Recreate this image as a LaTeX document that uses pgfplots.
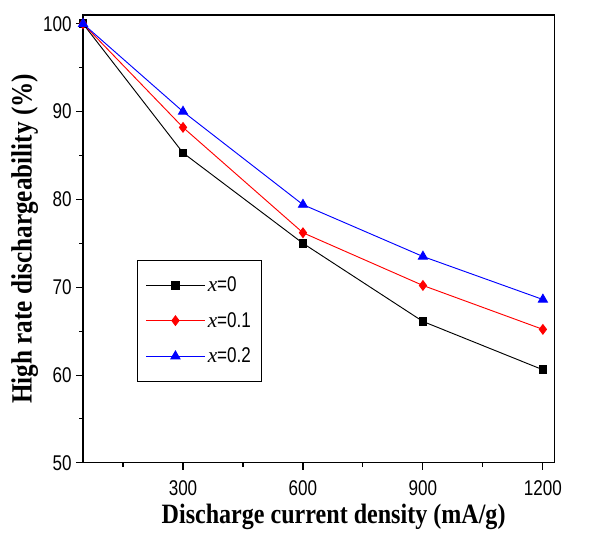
\documentclass[border=0pt]{standalone}
\usepackage{pgfplots}
\pgfplotsset{compat=1.18}
\usepackage{fontspec}
\setmainfont{Liberation Serif}
\newfontfamily\tickfont[FakeStretch=0.8]{Liberation Sans}
\newfontfamily\labelfont[FakeStretch=0.86]{Liberation Serif}
\begin{document}
\begin{tikzpicture}
\begin{axis}[
  scale only axis,
  width=354pt, height=336pt,
  xmin=50, xmax=1230, ymin=50, ymax=101,
  xtick={300,600,900,1200},
  minor xtick={150,450,750,1050},
  ytick={50,60,70,80,90,100},
  minor ytick={55,65,75,85,95},
  tick align=outside,
  tick pos=left,
  major tick length=5pt, minor tick length=3pt,
  axis line style={line width=0.9pt},
  every tick/.style={black, line width=0.8pt},
  /pgf/number format/assume math mode=true,
  /pgf/number format/1000 sep={},
  ticklabel style={font=\tickfont\fontsize{16}{18}\selectfont},
  xticklabel style={yshift=-5pt},
  xlabel={Discharge current density (mA/g)},
  ylabel={High rate dischargeability (\%)},
  xlabel style={font=\labelfont\bfseries\fontsize{21}{23}\selectfont, yshift=1pt, xshift=11pt},
  ylabel style={font=\labelfont\bfseries\fontsize{22}{23}\selectfont, yshift=-3pt},
  legend style={at={(rel axis cs:0.115,0.181)}, anchor=south west, draw=black, line width=0.7pt,
    font=\tickfont\fontsize{16}{18}\selectfont, row sep=10pt, inner xsep=6pt, inner ysep=10.5pt},
  legend image code/.code={
    \draw[mark repeat=2,mark phase=2,#1] plot coordinates {(0cm,0cm) (0.77cm,0cm) (1.54cm,0cm)};},
  legend cell align=left,
]
\coordinate (bl) at (rel axis cs:-0.176,-0.154);
\coordinate (tr) at (rel axis cs:1.085,1.0335);
\addplot[black, line width=0.7pt, mark=square*, mark size=2.9pt] coordinates {(50,100) (300,85.3) (600,75.0) (900,66.1) (1200,60.6)};
\addlegendentry{{\rmfamily\itshape x}=0}
\addplot[red, line width=0.7pt, mark=diamond*, mark size=3.6pt] coordinates {(50,100) (300,88.2) (600,76.2) (900,70.2) (1200,65.2)};
\addlegendentry{{\rmfamily\itshape x}=0.1}
\addplot[blue, line width=0.7pt, mark=triangle*, mark size=3.9pt] coordinates {(50,100) (300,90.0) (600,79.4) (900,73.5) (1200,68.6)};
\addlegendentry{{\rmfamily\itshape x}=0.2}
\end{axis}
\path[use as bounding box] (bl) rectangle (tr);
\end{tikzpicture}
\end{document}
